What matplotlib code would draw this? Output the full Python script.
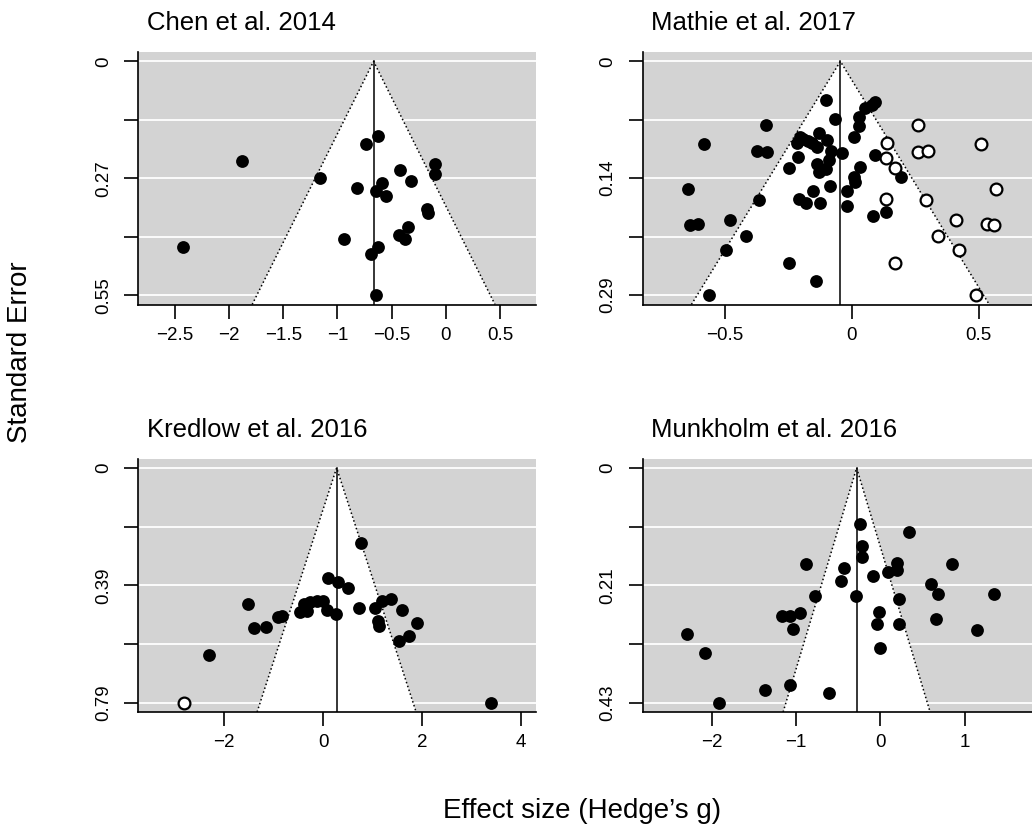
import matplotlib.pyplot as plt
import numpy as np

plt.rcParams['font.family'] = ['Liberation Sans', 'DejaVu Sans']

# --- data ---
titles = ['Chen et al. 2014', 'Mathie et al. 2017', 'Kredlow et al. 2016', 'Munkholm et al. 2016']

chen_g = [-0.627, -0.738, -1.876, -0.098, -0.098, -0.427, -1.165, -0.587, -0.323, -0.818, -0.646,
          -0.553, -0.175, -0.166, -0.351, -0.431, -0.375, -0.938, -2.420, -0.627, -0.695, -0.649]
chen_se = [0.175, 0.193, 0.235, 0.240, 0.264, 0.255, 0.273, 0.286, 0.281, 0.297, 0.304,
           0.316, 0.346, 0.357, 0.389, 0.408, 0.417, 0.418, 0.435, 0.435, 0.453, 0.549]
chen_est = -0.667

mathie_g = [-0.101, -0.066, -0.338, -0.582, -0.375, -0.336, -0.204, -0.191, -0.171, -0.214, -0.155,
            -0.128, -0.099, -0.138, -0.083, -0.039, -0.088, -0.212, -0.247, -0.138, -0.101, -0.131,
            -0.644, -0.085, -0.367, -0.208, -0.181, -0.151, -0.125, -0.020, -0.020, -0.637, -0.608,
            -0.482, -0.417, -0.497, -0.246, -0.141, -0.564, 0.092, 0.079, 0.053, 0.030, 0.029,
            0.009, 0.091, 0.033, 0.009, 0.011, 0.193, 0.083, 0.134]
mathie_se = [0.047, 0.071, 0.079, 0.102, 0.110, 0.112, 0.093, 0.096, 0.098, 0.101, 0.101,
             0.088, 0.097, 0.105, 0.110, 0.113, 0.122, 0.118, 0.131, 0.127, 0.133, 0.136,
             0.157, 0.154, 0.171, 0.170, 0.174, 0.160, 0.174, 0.160, 0.178, 0.202, 0.200,
             0.195, 0.215, 0.233, 0.248, 0.270, 0.288, 0.050, 0.054, 0.058, 0.069, 0.080,
             0.093, 0.115, 0.130, 0.142, 0.149, 0.142, 0.191, 0.185]
mathie_fill_g = [0.138, 0.263, 0.263, 0.301, 0.509, 0.135, 0.171, 0.569, 0.134, 0.292, 0.409,
                 0.532, 0.562, 0.340, 0.422, 0.170, 0.490]
mathie_fill_se = [0.101, 0.079, 0.112, 0.110, 0.102, 0.119, 0.131, 0.157, 0.170, 0.171, 0.195,
                  0.200, 0.202, 0.215, 0.233, 0.248, 0.288]
mathie_est = -0.045

kredlow_g = [0.761, 0.101, 0.290, 0.492, -1.529, -0.391, -0.269, -0.135, 0.0, -0.471, -0.337,
             0.067, 0.256, 0.727, 1.044, 1.178, 1.360, 1.589, -0.909, -0.828, -1.401, -1.158,
             1.098, 1.125, 1.899, 1.529, 1.731, -2.310, 3.387]
kredlow_se = [0.251, 0.368, 0.384, 0.402, 0.456, 0.456, 0.450, 0.447, 0.448, 0.483, 0.481,
              0.476, 0.492, 0.469, 0.469, 0.447, 0.441, 0.478, 0.501, 0.496, 0.537, 0.535,
              0.514, 0.531, 0.521, 0.582, 0.565, 0.628, 0.788]
kredlow_fill_g = [-2.822]
kredlow_fill_se = [0.788]
kredlow_est = 0.269

munk_g = [-0.241, 0.344, -0.214, -0.222, -0.882, -0.435, 0.202, 0.194, 0.095, 0.855, -0.091,
          -0.467, 0.601, 0.685, -0.772, -0.289, 0.222, 1.349, -1.163, -1.072, -0.954, -1.033,
          -0.020, -0.044, 0.226, 0.657, 1.144, -2.299, -2.085, -0.008, -1.369, -1.072, -0.605, -1.911]
munk_se = [0.102, 0.116, 0.143, 0.162, 0.176, 0.183, 0.173, 0.186, 0.190, 0.175, 0.197,
           0.207, 0.211, 0.230, 0.233, 0.233, 0.239, 0.230, 0.270, 0.270, 0.264, 0.293,
           0.263, 0.284, 0.284, 0.276, 0.295, 0.303, 0.338, 0.328, 0.405, 0.396, 0.410, 0.428]
munk_est = -0.281

se_max = [0.549, 0.288, 0.788, 0.428]
ytick_labels = [['0', '', '0.27', '', '0.55'],
                ['0', '', '0.14', '', '0.29'],
                ['0', '', '0.39', '', '0.79'],
                ['0', '', '0.21', '', '0.43']]
xticks = [[-2.5, -2, -1.5, -1, -0.5, 0, 0.5],
          [-0.5, 0, 0.5],
          [-2, 0, 2, 4],
          [-2, -1, 0, 1]]
xlims = [(-2.836, 0.833), (-0.825, 0.744), (-3.737, 4.303), (-2.823, 1.902)]

W, H = 1032, 827
# axes boxes in pixels: left, top, right, bottom
boxes = [(138.3, 52, 536.3, 304.5), (642.5, 52, 1040.5, 304.5),
         (138.3, 458.5, 536.3, 712), (642.5, 458.5, 1040.5, 712)]

fig = plt.figure(figsize=(W / 100, H / 100), dpi=100)


def funnel(i, g, se, est, fill_g=None, fill_se=None):
    l, t, r, b = boxes[i]
    ax = fig.add_axes([l / W, 1 - b / H, (r - l) / W, (b - t) / H])
    m = se_max[i]
    ybot = m * 1.04
    ax.set_xlim(xlims[i])
    ax.set_ylim(ybot, -0.04 * m)
    ax.set_facecolor('#d3d3d3')
    yt = np.linspace(0, m, 5)
    for v in yt:
        ax.axhline(v, color='white', lw=1.3, zorder=0.5)
    fx = [est - 1.96 * ybot, est, est + 1.96 * ybot]
    fy = [ybot, 0, ybot]
    ax.fill(fx, fy, color='white', lw=0, zorder=1)
    ax.plot(fx, fy, color='black', ls=':', lw=1.1, zorder=2)
    ax.plot([est, est], [0, ybot], color='black', lw=1.1, zorder=2)
    ax.scatter(g, se, s=85, c='black', lw=0, zorder=3)
    if fill_g is not None:
        ax.scatter(fill_g, fill_se, s=72, facecolor='white', edgecolor='black', lw=1.6, zorder=3)
    ax.spines['top'].set_visible(False)
    ax.spines['right'].set_visible(False)
    for s in ['left', 'bottom']:
        ax.spines[s].set_linewidth(1.2)
    ax.set_yticks(yt)
    ax.set_yticklabels(ytick_labels[i], rotation=90, va='center', fontsize=13.5)
    ax.set_xticks(xticks[i])
    ax.set_xticklabels([('%g' % v).replace('-', '\u2212') for v in xticks[i]], fontsize=13.5)
    ax.tick_params(axis='y', length=10, width=1.2, pad=9)
    ax.tick_params(axis='x', length=10, width=1.2, pad=6)
    fig.text((l + 8.5) / W, 1 - (t - 22) / H, titles[i], fontsize=18.5, va='baseline')
    return ax


funnel(0, chen_g, chen_se, chen_est)
funnel(1, mathie_g, mathie_se, mathie_est, mathie_fill_g, mathie_fill_se)
funnel(2, kredlow_g, kredlow_se, kredlow_est, kredlow_fill_g, kredlow_fill_se)
funnel(3, munk_g, munk_se, munk_est)

fig.text(582 / W, 1 - 818 / H, 'Effect size (Hedge\u2019s g)', fontsize=20, ha='center', va='baseline')
fig.text(33 / W, 1 - 352 / H, 'Standard Error', fontsize=20, rotation=90, ha='right', va='center')

fig.savefig('out.png', dpi=100)
